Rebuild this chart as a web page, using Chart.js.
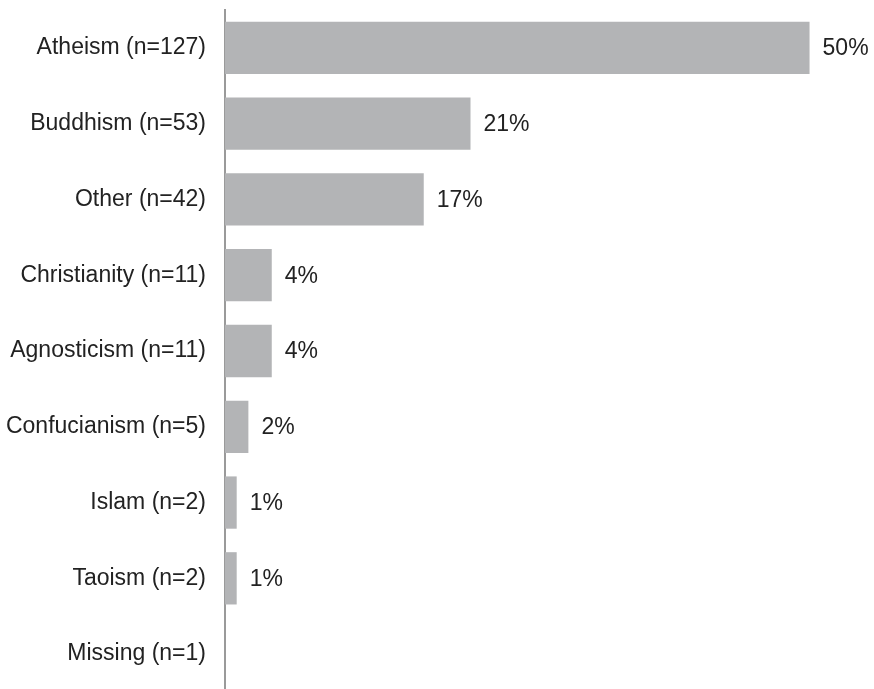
<!DOCTYPE html>
<html>
<head>
<meta charset="utf-8">
<script src="https://cdn.jsdelivr.net/npm/chart.js@4"></script>
<style>
  html, body { margin: 0; padding: 0; background: #fff; overflow: hidden; }
  #chart { display: block; }
</style>
</head>
<body>
<canvas id="chart" width="874" height="692"></canvas>
<script>
// Religion categories with respondent counts
const categories = [
    'Atheism (n=127)',
    'Buddhism (n=53)',
    'Other (n=42)',
    'Christianity (n=11)',
    'Agnosticism (n=11)',
    'Confucianism (n=5)',
    'Islam (n=2)',
    'Taoism (n=2)',
    'Missing (n=1)'
];

// Share of respondents, percent (as labelled)
const percentValues = [50, 21, 17, 4, 4, 2, 1, 1, 0];

const barColor = '#b3b4b6';
const textColor = '#222222';
const fontFamily = '"Liberation Sans", Arial, Helvetica, sans-serif';
const fontSize = 23;

// **Value labels to the right of each bar**
const valueLabels = {
    id: 'valueLabels',
    afterDatasetsDraw(chart) {
        const ctx = chart.ctx;
        const meta = chart.getDatasetMeta(0);
        ctx.save();
        ctx.font = fontSize + 'px ' + fontFamily;
        ctx.fillStyle = textColor;
        ctx.textAlign = 'left';
        ctx.textBaseline = 'middle';
        meta.data.forEach((bar, i) => {
            const v = percentValues[i];
            if (!v) return;
            ctx.fillText(v + '%', bar.x + 13, bar.y + 1);
        });
        ctx.restore();
    }
};

const ctx = document.getElementById('chart').getContext('2d');
new Chart(ctx, {
    type: 'bar',
    data: {
        labels: categories,
        datasets: [{
            data: percentValues,
            backgroundColor: barColor,
            borderWidth: 0,
            barPercentage: 0.69,
            categoryPercentage: 1
        }]
    },
    options: {
        indexAxis: 'y',
        responsive: false,
        animation: false,
        layout: { padding: { top: 10, right: 6, bottom: 0, left: 0 } },
        plugins: {
            legend: { display: false },
            tooltip: { enabled: false }
        },
        scales: {
            x: {
                display: false,
                min: 0,
                max: 55
            },
            y: {
                afterFit(scale) {
                    scale.width = 225;
                    scale.paddingTop = 0;
                    scale.paddingBottom = 0;
                },
                grid: { display: false, drawTicks: false },
                border: { display: true, color: '#9a9a9a', width: 2 },
                ticks: {
                    padding: 19,
                    color: textColor,
                    font: { size: fontSize, family: fontFamily }
                }
            }
        }
    },
    plugins: [valueLabels]
});
</script>
</body>
</html>
